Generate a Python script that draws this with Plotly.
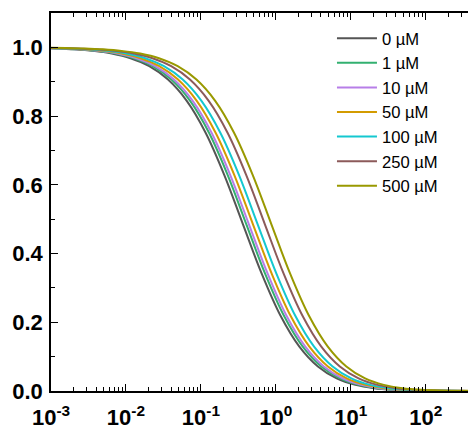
import plotly.graph_objects as go

# concentration labels and colours
labels = ["0 µM", "1 µM", "10 µM", "50 µM", "100 µM", "250 µM", "500 µM"]
colors = ["#555555", "#33b070", "#b77ee8", "#d39b00", "#14c8d0", "#8c5a5a", "#999900"]

# normalised correlation values (shared sampling levels)
g_vals = [0.99897, 0.99817, 0.99675, 0.99423, 0.98979, 0.98198, 0.96839, 0.94510,
          0.90626, 0.84434, 0.75235, 0.62911, 0.48507, 0.34146, 0.21953, 0.12987,
          0.07132, 0.03664, 0.01777, 0.00822, 0.00368, 0.00161, 0.00069, 0.00030,
          0.00013, 0.00005]

# lag times (ms) at which each curve takes the values above
t_0 = [0.000364, 0.000647, 0.001151, 0.002047, 0.00364, 0.006473, 0.01151, 0.02047, 0.0364, 0.06473, 0.1151, 0.2047, 0.364, 0.6473, 1.151, 2.047, 3.64, 6.473, 11.51, 20.47, 36.4, 64.73, 115.1, 204.7, 364, 647.3]
t_1 = [0.000404, 0.000718, 0.001278, 0.002272, 0.00404, 0.007184, 0.01278, 0.02272, 0.0404, 0.07184, 0.1278, 0.2272, 0.404, 0.7184, 1.278, 2.272, 4.04, 7.184, 12.78, 22.72, 40.4, 71.84, 127.8, 227.2, 404, 718.4]
t_10 = [0.000437, 0.000777, 0.001382, 0.002457, 0.00437, 0.007771, 0.01382, 0.02457, 0.0437, 0.07771, 0.1382, 0.2457, 0.437, 0.7771, 1.382, 2.457, 4.37, 7.771, 13.82, 24.57, 43.7, 77.71, 138.2, 245.7, 437, 777.1]
t_50 = [0.000495, 0.00088, 0.001565, 0.002784, 0.00495, 0.008803, 0.01565, 0.02784, 0.0495, 0.08803, 0.1565, 0.2784, 0.495, 0.8803, 1.565, 2.784, 4.95, 8.803, 15.65, 27.84, 49.5, 88.03, 156.5, 278.4, 495, 880.3]
t_100 = [0.000572, 0.001017, 0.001809, 0.003217, 0.00572, 0.01017, 0.01809, 0.03217, 0.0572, 0.1017, 0.1809, 0.3217, 0.572, 1.017, 1.809, 3.217, 5.72, 10.17, 18.09, 32.17, 57.2, 101.7, 180.9, 321.7, 572, 1017]
t_250 = [0.000714, 0.00127, 0.002258, 0.004015, 0.00714, 0.0127, 0.02258, 0.04015, 0.0714, 0.127, 0.2258, 0.4015, 0.714, 1.27, 2.258, 4.015, 7.14, 12.7, 22.58, 40.15, 71.4, 127, 225.8, 401.5, 714, 1270]
t_500 = [0.000872, 0.001551, 0.002757, 0.004904, 0.00872, 0.01551, 0.02757, 0.04904, 0.0872, 0.1551, 0.2757, 0.4904, 0.872, 1.551, 2.757, 4.904, 8.72, 15.51, 27.57, 49.04, 87.2, 155.1, 275.7, 490.4, 872, 1551]
t_series = [t_0, t_1, t_10, t_50, t_100, t_250, t_500]

xtick_vals = [1e-3, 1e-2, 1e-1, 1e0, 1e1, 1e2]
xtick_text = ["10<sup>-3</sup>", "10<sup>-2</sup>", "10<sup>-1</sup>",
              "10<sup>0</sup>", "10<sup>1</sup>", "10<sup>2</sup>"]

fig = go.Figure()
for lab, col, ts in zip(labels, colors, t_series):
    fig.add_trace(go.Scatter(
        x=ts, y=g_vals,
        mode="lines", name=lab,
        line=dict(color=col, width=2, shape="spline", smoothing=1.0),
    ))

tick_font = dict(family="Liberation Sans, Arial, sans-serif", size=22, color="black", weight="bold")

fig.update_layout(
    width=476, height=430,
    margin=dict(l=43, r=6, t=3, b=47),
    paper_bgcolor="white", plot_bgcolor="white",
    showlegend=True,
    legend=dict(
        x=0.658, y=0.979, xanchor="left", yanchor="top",
        font=dict(family="Liberation Sans, Arial, sans-serif", size=16.6, color="black"),
        bgcolor="rgba(0,0,0,0)", borderwidth=0, tracegroupgap=0, itemwidth=40,
    ),
    xaxis=dict(
        type="log", range=[-3, 2.697],
        showline=True, linecolor="black", linewidth=1.5, mirror="ticks",
        ticks="inside", ticklen=7, tickwidth=1.2, tickcolor="black",
        tickvals=xtick_vals, ticktext=xtick_text, tickfont=tick_font,
        minor=dict(ticks="inside", ticklen=4, tickwidth=1, tickcolor="black", dtick="D1", showgrid=False),
        showgrid=False, zeroline=False, ticklabelstandoff=6,
    ),
    yaxis=dict(
        range=[0, 1.1],
        showline=True, linecolor="black", linewidth=1.5, mirror="ticks",
        ticks="inside", ticklen=7, tickwidth=1.2, tickcolor="black",
        dtick=0.2, tick0=0, tickformat=".1f", tickfont=tick_font,
        minor=dict(ticks="inside", ticklen=4, tickwidth=1, tickcolor="black", dtick=0.1, showgrid=False),
        showgrid=False, zeroline=False, ticklabelstandoff=2,
    ),
)

fig.write_html("out.html")
